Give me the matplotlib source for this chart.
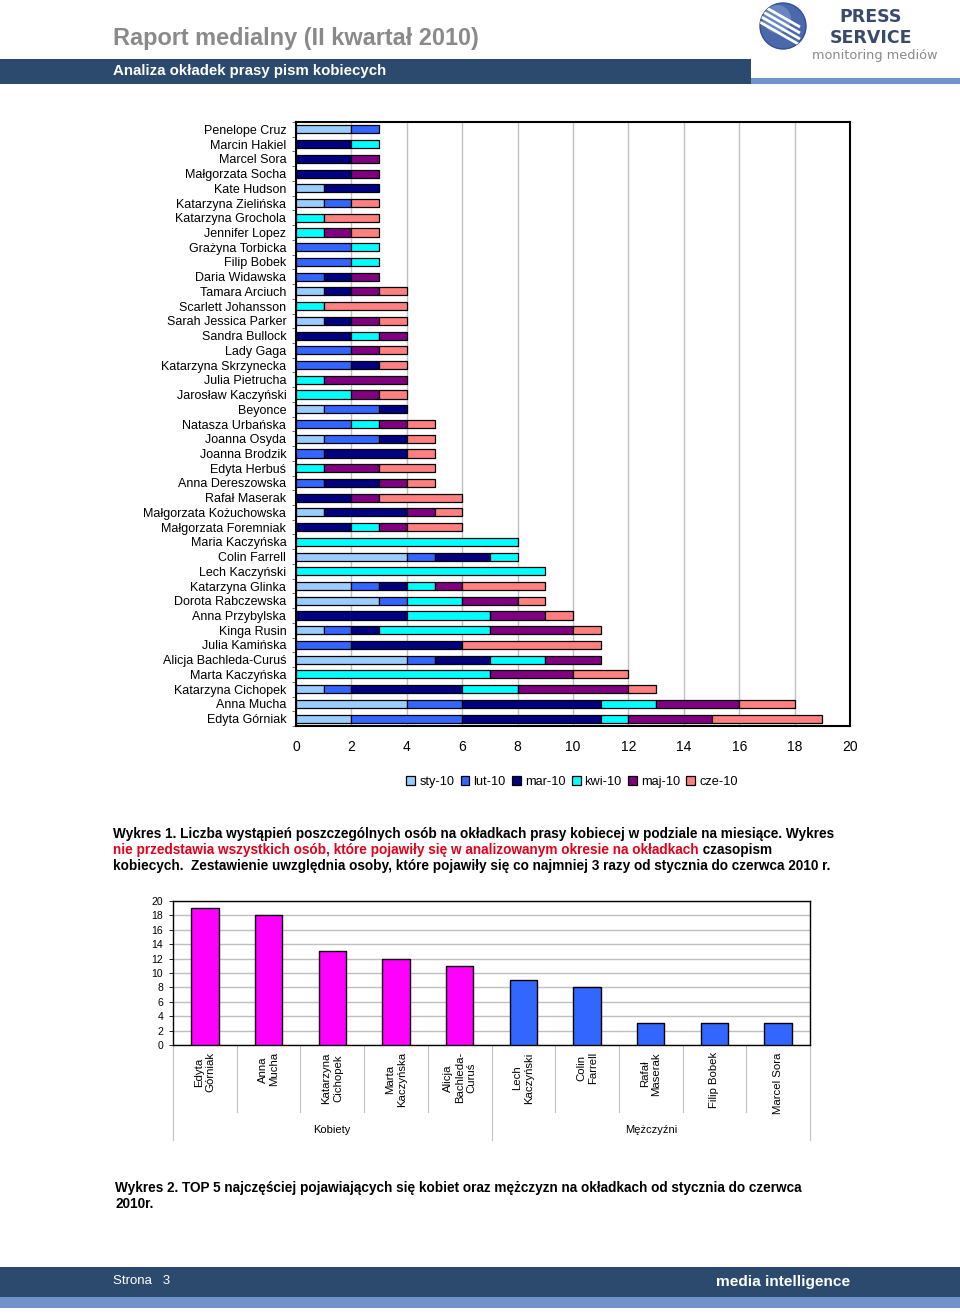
import matplotlib
matplotlib.use('Agg')
import matplotlib.pyplot as plt
import numpy as np
from matplotlib.patches import Rectangle, Circle

# ---------------- data ----------------
names = ["Penelope Cruz", "Marcin Hakiel", "Marcel Sora", "Małgorzata Socha", "Kate Hudson",
         "Katarzyna Zielińska", "Katarzyna Grochola", "Jennifer Lopez", "Grażyna Torbicka",
         "Filip Bobek", "Daria Widawska", "Tamara Arciuch", "Scarlett Johansson",
         "Sarah Jessica Parker", "Sandra Bullock", "Lady Gaga", "Katarzyna Skrzynecka",
         "Julia Pietrucha", "Jarosław Kaczyński", "Beyonce", "Natasza Urbańska", "Joanna Osyda",
         "Joanna Brodzik", "Edyta Herbuś", "Anna Dereszowska", "Rafał Maserak",
         "Małgorzata Kożuchowska", "Małgorzata Foremniak", "Maria Kaczyńska", "Colin Farrell",
         "Lech Kaczyński", "Katarzyna Glinka", "Dorota Rabczewska", "Anna Przybylska",
         "Kinga Rusin", "Julia Kamińska", "Alicja Bachleda-Curuś", "Marta Kaczyńska",
         "Katarzyna Cichopek", "Anna Mucha", "Edyta Górniak"]
sty = [2, 0, 0, 0, 1, 1, 0, 0, 0, 0, 0, 1, 0, 1, 0, 0, 0, 0, 0, 1, 0, 1, 0, 0, 0, 0, 1, 0, 0, 4, 0, 2, 3, 0, 1, 0, 4, 0, 1, 4, 2]
lut = [1, 0, 0, 0, 0, 1, 0, 0, 2, 2, 1, 0, 0, 0, 0, 2, 2, 0, 0, 2, 2, 2, 1, 0, 1, 0, 0, 0, 0, 1, 0, 1, 1, 0, 1, 2, 1, 0, 1, 2, 4]
mar = [0, 2, 2, 2, 2, 0, 0, 0, 0, 0, 1, 1, 0, 1, 2, 0, 1, 0, 0, 1, 0, 1, 3, 0, 2, 2, 3, 2, 0, 2, 0, 1, 0, 4, 1, 4, 2, 0, 4, 5, 5]
kwi = [0, 1, 0, 0, 0, 0, 1, 1, 1, 1, 0, 0, 1, 0, 1, 0, 0, 1, 2, 0, 1, 0, 0, 1, 0, 0, 0, 1, 8, 1, 9, 1, 2, 3, 4, 0, 2, 7, 2, 2, 1]
maj = [0, 0, 1, 1, 0, 0, 0, 1, 0, 0, 1, 1, 0, 1, 1, 1, 0, 3, 1, 0, 1, 0, 0, 2, 1, 1, 1, 1, 0, 0, 0, 1, 2, 2, 3, 0, 2, 3, 4, 3, 3]
cze = [0, 0, 0, 0, 0, 1, 2, 1, 0, 0, 0, 1, 3, 1, 0, 1, 1, 0, 1, 0, 1, 1, 1, 2, 1, 3, 1, 2, 0, 0, 0, 3, 1, 1, 1, 5, 0, 2, 1, 2, 4]
month_labels = ["sty-10", "lut-10", "mar-10", "kwi-10", "maj-10", "cze-10"]
month_colors = ["#99CCFF", "#3366FF", "#000080", "#00FFFF", "#800080", "#FF8080"]
x_ticks = list(range(0, 21, 2))

top_names = ["Edyta\nGórniak", "Anna\nMucha", "Katarzyna\nCichopek", "Marta\nKaczyńska",
             "Alicja\nBachleda-\nCuruś", "Lech\nKaczyński", "Colin\nFarrell", "Rafał\nMaserak",
             "Filip Bobek", "Marcel Sora"]
top_values = [19, 18, 13, 12, 11, 9, 8, 3, 3, 3]
groups = ["Kobiety", "Mężczyźni"]
group_sizes = [5, 5]
group_colors = ["#FF00FF", "#3366FF"]
top_y_ticks = list(range(0, 21, 2))

# ---------------- figure ----------------
W, H = 960, 1314
fig = plt.figure(figsize=(W / 100, H / 100), dpi=100)
fig.patch.set_facecolor('white')
CH = ['Liberation Sans', 'DejaVu Sans']
NARROW = ['Liberation Sans Narrow', 'Liberation Sans', 'DejaVu Sans']
plt.rcParams['font.family'] = CH

bg = fig.add_axes([0, 0, 1, 1])
bg.set_xlim(0, W)
bg.set_ylim(H, 0)
bg.axis('off')
bg.patch.set_alpha(0)

renderer = fig.canvas.get_renderer()

def fit(t, width):
    bb = t.get_window_extent(renderer)
    t.set_fontsize(t.get_fontsize() * width / bb.width)
    return t

DARK = '#2B4A6E'
LIGHT = '#6E93C8'
# header
bg.add_patch(Rectangle((0, 59), 751, 25, color=DARK, lw=0))
bg.add_patch(Rectangle((751, 78), 209, 6, color=LIGHT, lw=0))
fit(bg.text(113, 38, "Raport medialny (II kwartał 2010)", color='#8A8A8A', fontweight='bold',
            fontsize=16, va='center', ha='left', family=NARROW), 366)
fit(bg.text(113, 71, "Analiza okładek prasy pism kobiecych", color='white', fontweight='bold',
            fontsize=11, va='center', ha='left', family=NARROW), 275)
# logo
circ = Circle((783, 26), 23, facecolor='#4A69AC', edgecolor='#34508A', lw=1)
bg.add_patch(circ)
hl = Circle((777, 19), 14, facecolor='#7F9BD0', edgecolor='none', alpha=0.6)
bg.add_patch(hl)
hl.set_clip_path(circ)
for d in [-9, -3, 3, 9]:
    ln, = bg.plot([758, 800], [12 + d, 36 + d], color='white', lw=2.0, solid_capstyle='butt')
    ln.set_clip_path(circ)
bg.text(871, 17, "PRESS", color='#3A4A6A', fontweight='bold', fontsize=12.5, va='center',
        ha='center', family=['DejaVu Sans'])
bg.text(871, 38, "SERVICE", color='#3A4A6A', fontweight='bold', fontsize=12.5, va='center',
        ha='center', family=['DejaVu Sans'])
fit(bg.text(812, 55, "monitoring mediów", color='#8A8A8A', fontsize=7, va='center',
            ha='left', family=['DejaVu Sans']), 125)

# footer
bg.add_patch(Rectangle((0, 1267), W, 30, color=DARK, lw=0))
bg.add_patch(Rectangle((0, 1297), W, 11, color=LIGHT, lw=0))
fit(bg.text(113, 1281, "Strona   3", color='white', fontsize=10, va='center', ha='left',
            family=NARROW), 58)
fit(bg.text(850, 1282, "media intelligence", color='white', fontweight='bold', fontsize=11,
            va='center', ha='right', family=NARROW), 134)

# captions
l1 = fit(bg.text(113, 834, "Wykres 1. Liczba wystąpień poszczególnych osób na okładkach prasy kobiecej w podziale na miesiące. Wykres",
                 color='black', fontweight='bold', fontsize=10, va='center', ha='left', family=NARROW), 720)
fs = l1.get_fontsize()
red = bg.text(113, 850, "nie przedstawia wszystkich osób, które pojawiły się w analizowanym okresie na okładkach",
              color='#E3001B', fontweight='bold', fontsize=fs, va='center', ha='left', family=NARROW)
rw = red.get_window_extent(renderer).width
bg.text(113 + rw, 850, " czasopism", color='black', fontweight='bold', fontsize=fs, va='center',
        ha='left', family=NARROW)
bg.text(113, 866, "kobiecych.  Zestawienie uwzględnia osoby, które pojawiły się co najmniej 3 razy od stycznia do czerwca 2010 r.",
        color='black', fontweight='bold', fontsize=fs, va='center', ha='left', family=NARROW)
l2 = fit(bg.text(115, 1188, "Wykres 2. TOP 5 najczęściej pojawiających się kobiet oraz mężczyzn na okładkach od stycznia do czerwca",
                 color='black', fontweight='bold', fontsize=10, va='center', ha='left', family=NARROW), 689)
bg.text(115, 1204, "2010r.", color='black', fontweight='bold', fontsize=l2.get_fontsize(), va='center',
        ha='left', family=NARROW)

# ---------------- chart 1 ----------------
ax = fig.add_axes([296 / W, 1 - 726 / H, 554 / W, 604 / H])
yy = np.arange(len(names))
left = np.zeros(len(names))
handles = []
for vals, col, lab in zip([sty, lut, mar, kwi, maj, cze], month_colors, month_labels):
    v = np.array(vals, dtype=float)
    m = v > 0
    ax.barh(yy[m], v[m], left=left[m], height=0.55, color=col, edgecolor='black', linewidth=0.9, zorder=3)
    handles.append(Rectangle((0, 0), 1, 1, facecolor=col, edgecolor='black', linewidth=0.9))
    left += v
ax.set_xlim(0, 20)
ax.set_ylim(len(names) - 0.5, -0.5)
ax.set_xticks(x_ticks)
ax.set_xticklabels([str(t) for t in x_ticks], fontsize=10)
ax.set_yticks(yy)
ax.set_yticklabels(names, fontsize=9)
ax.set_yticks(np.arange(len(names) + 1) - 0.5, minor=True)
ax.tick_params(axis='y', which='major', length=0, pad=7)
ax.tick_params(axis='y', which='minor', length=3, width=0.6, color='#555555')
ax.tick_params(axis='x', length=0, pad=10)
ax.grid(axis='x', color='#C0C0C0', lw=1, zorder=0)
ax.set_axisbelow(True)
for s in ax.spines.values():
    s.set_color('black')
    s.set_linewidth(1.5)

fig.legend(handles, month_labels, loc='center', bbox_to_anchor=(572 / W, 1 - 782 / H), ncol=6,
           frameon=False, fontsize=9.2, handlelength=0.7, handleheight=0.7, handletextpad=0.3,
           columnspacing=0.5, borderaxespad=0)

# ---------------- chart 2 ----------------
ax2 = fig.add_axes([173 / W, 1 - 1045 / H, 637 / W, 144 / H])
xs = np.arange(len(top_values))
cols = []
for g, n in zip(group_colors, group_sizes):
    cols += [g] * n
ax2.bar(xs, top_values, width=0.43, color=cols, edgecolor='black', linewidth=1, zorder=3)
ax2.set_xlim(-0.5, len(top_values) - 0.5)
ax2.set_ylim(0, 20)
ax2.set_yticks(top_y_ticks)
ax2.set_yticklabels([str(t) for t in top_y_ticks], fontsize=7.5)
ax2.tick_params(axis='y', length=3, pad=4, width=0.6)
ax2.set_xticks([])
ax2.grid(axis='y', color='#C0C0C0', lw=1, zorder=0)
ax2.set_axisbelow(True)
for s in ax2.spines.values():
    s.set_color('black')
    s.set_linewidth(1)
tr = ax2.get_xaxis_transform()
for i, nm in enumerate(top_names):
    ax2.text(i, -0.05, nm, rotation=90, ha='center', va='top', fontsize=8.2, transform=tr,
             multialignment='center', clip_on=False)
start = 0
for g, n in zip(groups, group_sizes):
    for k in range(1, n):
        ax2.plot([start + k - 0.5] * 2, [0, -0.465], transform=tr, color='#C0C0C0', lw=0.8, clip_on=False)
    ax2.plot([start - 0.5] * 2, [0, -0.66], transform=tr, color='#C0C0C0', lw=0.8, clip_on=False)
    ax2.text(start + (n - 1) / 2, -0.59, g, ha='center', va='center', fontsize=8, transform=tr,
             clip_on=False)
    start += n
ax2.plot([start - 0.5] * 2, [0, -0.66], transform=tr, color='#C0C0C0', lw=0.8, clip_on=False)

fig.savefig('out.png', dpi=100)
